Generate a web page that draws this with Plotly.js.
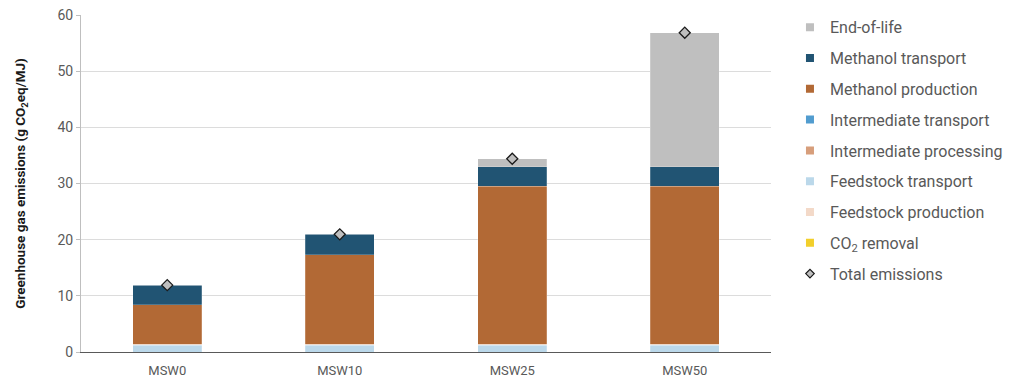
<!DOCTYPE html>
<html>
<head>
<meta charset="utf-8">
<script src="https://cdn.plot.ly/plotly-3.0.1.min.js"></script>
<style>html,body{margin:0;padding:0;background:#fff;}#chart{width:1010px;height:380px;}</style>
</head>
<body>
<div id="chart"></div>
<script>
const categories = ["MSW0", "MSW10", "MSW25", "MSW50"];
const co2Removal = [0, 0, 0, 0];
const feedstockProduction = [0, 0, 0, 0];
const feedstockTransport = [1.2, 1.2, 1.2, 1.2];
const intermediateProcessing = [0.2, 0.2, 0.2, 0.2];
const intermediateTransport = [0, 0, 0, 0];
const methanolProduction = [7.0, 15.9, 28.15, 28.15];
const methanolTransport = [3.5, 3.65, 3.45, 3.45];
const endOfLife = [0, 0, 1.4, 23.85];
const totalEmissions = [11.9, 20.95, 34.4, 56.85];
const yTickValues = [0, 10, 20, 30, 40, 50, 60];

const seriesDefs = [
  {name: "CO<sub>2</sub> removal", y: co2Removal, color: "#F2CF2B", rank: 8},
  {name: "Feedstock production", y: feedstockProduction, color: "#F3D9C8", rank: 7},
  {name: "Feedstock transport", y: feedstockTransport, color: "#BBD8EA", rank: 6},
  {name: "Intermediate processing", y: intermediateProcessing, color: "#D79E7B", rank: 5},
  {name: "Intermediate transport", y: intermediateTransport, color: "#519CCF", rank: 4},
  {name: "Methanol production", y: methanolProduction, color: "#B26935", rank: 3},
  {name: "Methanol transport", y: methanolTransport, color: "#215473", rank: 2},
  {name: "End-of-life", y: endOfLife, color: "#BFBFBF", rank: 1}
];

const traces = [];
seriesDefs.forEach((s, i) => {
  traces.push({
    type: "bar", x: categories, y: s.y, name: s.name,
    marker: {color: s.color, line: {color: "rgba(255,255,255,0.35)", width: 0.6}},
    width: 0.4, showlegend: false, legendgroup: "g" + i, hoverinfo: "name+y"
  });
  traces.push({
    type: "scatter", mode: "markers", x: [null], y: [null], name: s.name,
    marker: {symbol: "square", size: 8, color: s.color},
    legendgroup: "g" + i, legendrank: s.rank, showlegend: true
  });
});
traces.push({
  type: "scatter", mode: "markers", x: categories, y: totalEmissions, name: "Total emissions",
  marker: {symbol: "diamond", size: 8.5, color: "#BFBFBF", line: {color: "#1a1a1a", width: 1.3}},
  showlegend: false, legendgroup: "tot"
});
traces.push({
  type: "scatter", mode: "markers", x: [null], y: [null], name: "Total emissions",
  marker: {symbol: "diamond", size: 6.5, color: "#BFBFBF", line: {color: "#1a1a1a", width: 1.2}},
  legendgroup: "tot", legendrank: 9, showlegend: true
});

const layout = {
  width: 1010, height: 380,
  margin: {l: 81, r: 239, t: 15, b: 28, autoexpand: false},
  paper_bgcolor: "#fff", plot_bgcolor: "#fff",
  barmode: "stack",
  font: {family: "Roboto, 'Liberation Sans', sans-serif", color: "#595959"},
  xaxis: {
    type: "category", range: [-0.5, 3.5],
    showline: true, linecolor: "#595959", linewidth: 1.3,
    ticks: "", tickfont: {size: 13, color: "#595959"}, ticklabelstandoff: 6,
    showgrid: false, zeroline: false, fixedrange: true
  },
  yaxis: {
    range: [0, 60], tickvals: yTickValues, ticktext: yTickValues.map(String),
    showline: true, linecolor: "#BFBFBF", linewidth: 1,
    ticks: "outside", ticklen: 4, tickcolor: "#BFBFBF",
    tickfont: {size: 14, color: "#595959"},
    showgrid: true, gridcolor: "#DCDCDC", gridwidth: 1,
    zeroline: false, fixedrange: true,
    title: {text: "Greenhouse gas emissions (g CO<sub>2</sub>eq/MJ)", font: {size: 13.5, color: "#1a1a1a", family: "Roboto, sans-serif", weight: "bold"}, standoff: 28}
  },
  legend: {
    x: 1.0275, xanchor: "left", y: 1.014, yanchor: "top",
    traceorder: "grouped", tracegroupgap: 7, maxheight: 370,
    font: {size: 16, color: "#595959"},
    itemwidth: 30, bgcolor: "rgba(0,0,0,0)"
  },
  showlegend: true
};

Plotly.newPlot("chart", traces, layout, {displayModeBar: false, staticPlot: true});
</script>
</body>
</html>
